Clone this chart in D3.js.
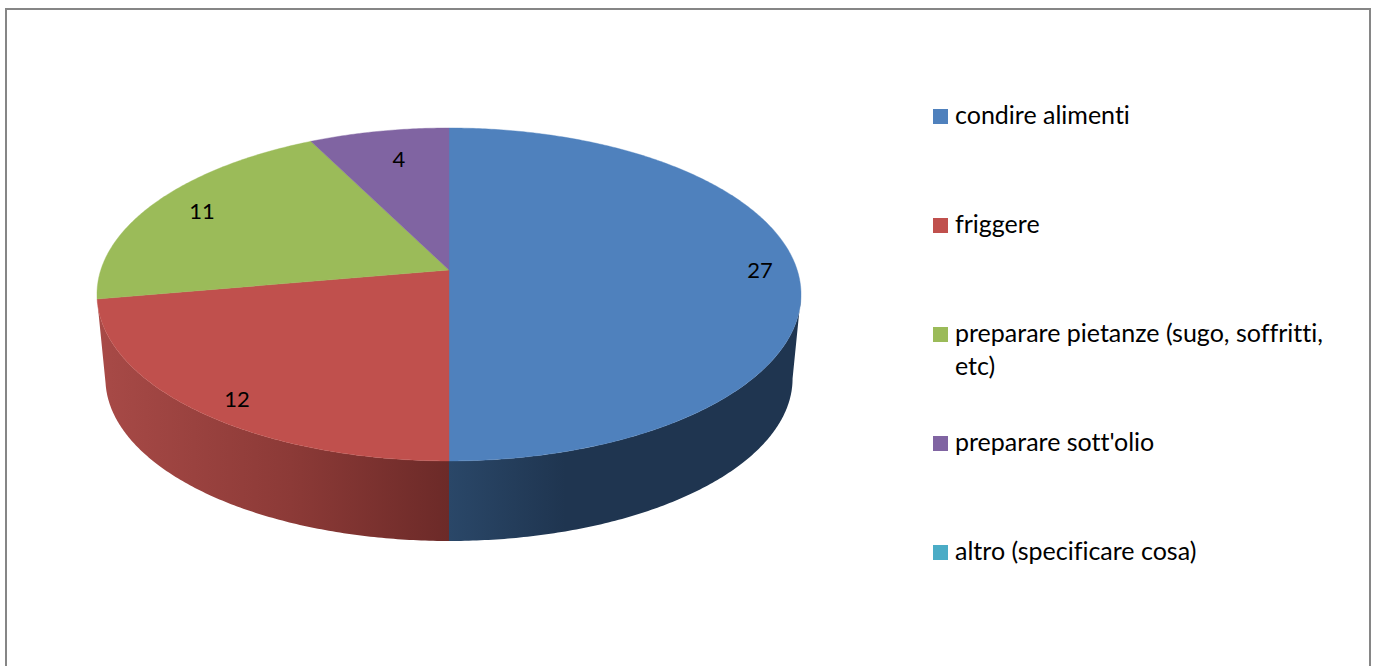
<!DOCTYPE html>
<html>
<head>
<meta charset="utf-8">
<script src="https://cdn.jsdelivr.net/npm/d3@7"></script>
<style>
  html, body { margin: 0; padding: 0; background: #fff; overflow: hidden; }
  text { font-family: Lato, "Open Sans", sans-serif; fill: #000; font-variant-ligatures: none; }
</style>
</head>
<body>
<div id="chart"></div>
<script>
// Chart values
const categories = ['condire alimenti', 'friggere', 'preparare pietanze (sugo, soffritti, etc)', "preparare sott'olio", 'altro (specificare cosa)'];
const values = [27, 12, 11, 4, 0];
const colors = ['#4f81bd', '#c0504d', '#9bbb59', '#8064a2', '#4bacc6'];

// Side wall shading, left to right across each visible slice
const wallStops = [
    ['#2a4768', '#1f3550', '#1f3550'],
    ['#a84a47', '#8c3a37', '#6c2a28']
];

const width = 1378, height = 666;

// Tilted disc: the far half looks smaller than the near half
const cx = 449, apexY = 270;
const radiusX = 348.2, radiusY = 162.9, tilt = 0.147;
const wallDrop = 84.6, wallScale = 0.976;

// Data label placement
const labelRadius = 0.87;
const labelNudge = [[8, 0], [4, 9], [9, 1], [12, 12]];

const svg = d3.select('#chart')
    .append('svg')
    .attr('width', width)
    .attr('height', height);

// Chart frame (bottom edge runs off the picture)
svg.append('rect')
    .attr('x', 6)
    .attr('y', 9)
    .attr('width', 1364)
    .attr('height', 680)
    .attr('fill', '#fff')
    .attr('stroke', '#868686')
    .attr('stroke-width', 2);

// Put a point of the flat disc on the screen. Angle is clockwise from the top.
function project(angle, r, level) {
    const u = Math.sin(angle) * r;
    const v = -Math.cos(angle) * r;
    const d = 1 - tilt * v;
    const s = level ? wallScale : 1;
    return [
        cx + s * radiusX * u / d,
        apexY + (level ? wallDrop : 0) + s * radiusY * v / d
    ];
}

function rim(a0, a1, level) {
    const n = Math.max(2, Math.ceil((a1 - a0) / 0.01));
    const t = d3.scaleLinear().domain([0, n]).range([a0, a1]);
    return d3.range(n + 1).map(i => project(t(i), 1, level));
}

const line = d3.line();

const slices = d3.pie().sort(null).value(d => d)(values)
    .map(d => ({ ...d, a0: d.startAngle, a1: d.endAngle }));

// The wall shows between the two points where the rim turns back
const visStart = Math.acos(-tilt);
const visEnd = 2 * Math.PI - visStart;

const defs = svg.append('defs');

// Draw side walls
const walls = slices
    .map((d, i) => ({ i, a0: Math.max(d.a0, visStart), a1: Math.min(d.a1, visEnd) }))
    .filter(d => d.a1 - d.a0 > 0.05);

walls.forEach((d, k) => {
    const x1 = project(d.a0, 1, 0)[0], x2 = project(d.a1, 1, 0)[0];
    const grad = defs.append('linearGradient')
        .attr('id', 'wall' + d.i)
        .attr('gradientUnits', 'userSpaceOnUse')
        .attr('x1', Math.min(x1, x2)).attr('x2', Math.max(x1, x2))
        .attr('y1', 0).attr('y2', 0);
    const offsets = d.i === 0 ? [0, 0.33, 1] : [0, 0.55, 1];
    wallStops[k].forEach((c, j) => {
        grad.append('stop').attr('offset', offsets[j]).attr('stop-color', c);
    });
});

svg.append('g')
    .selectAll('path')
    .data(walls)
    .enter()
    .append('path')
    .attr('d', d => line([...rim(d.a0, d.a1, 0), ...rim(d.a0, d.a1, 1).reverse()]) + 'Z')
    .attr('fill', d => `url(#wall${d.i})`);

// Draw top faces
svg.append('g')
    .selectAll('path')
    .data(slices.filter(d => d.value > 0))
    .enter()
    .append('path')
    .attr('d', d => line([[cx, apexY], ...rim(d.a0, d.a1, 0)]) + 'Z')
    .attr('fill', d => colors[d.index])
    .attr('stroke', d => colors[d.index])
    .attr('stroke-width', 0.4);

// Data labels
svg.append('g')
    .selectAll('text')
    .data(slices.filter(d => d.value > 0))
    .enter()
    .append('text')
    .attr('x', d => project((d.a0 + d.a1) / 2, labelRadius, 0)[0] + labelNudge[d.index][0])
    .attr('y', d => project((d.a0 + d.a1) / 2, labelRadius, 0)[1] + labelNudge[d.index][1])
    .attr('dy', '0.35em')
    .attr('text-anchor', 'middle')
    .style('font-size', '22px')
    .text(d => d.value);

// Legend
const legendY = d3.scalePoint().domain(categories).range([116.5, 552.5]);

const legend = svg.append('g')
    .selectAll('g')
    .data(categories)
    .enter()
    .append('g')
    .attr('transform', d => `translate(933,${legendY(d)})`);

legend.append('rect')
    .attr('y', -7.5)
    .attr('width', 15)
    .attr('height', 15)
    .attr('fill', (d, i) => colors[i]);

// Wrap long entries to the legend width
legend.append('text')
    .attr('x', 22)
    .attr('y', 7.5)
    .style('font-size', '25px')
    .each(function (d) {
        const el = d3.select(this);
        const words = d.split(' ');
        let cur = [];
        let tspan = el.append('tspan').attr('x', 22);
        words.forEach(w => {
            cur.push(w);
            tspan.text(cur.join(' '));
            if (tspan.node().getComputedTextLength() > 385 && cur.length > 1) {
                cur.pop();
                tspan.text(cur.join(' '));
                cur = [w];
                tspan = el.append('tspan').attr('x', 22).attr('dy', 33).text(w);
            }
        });
    });
</script>
</body>
</html>
